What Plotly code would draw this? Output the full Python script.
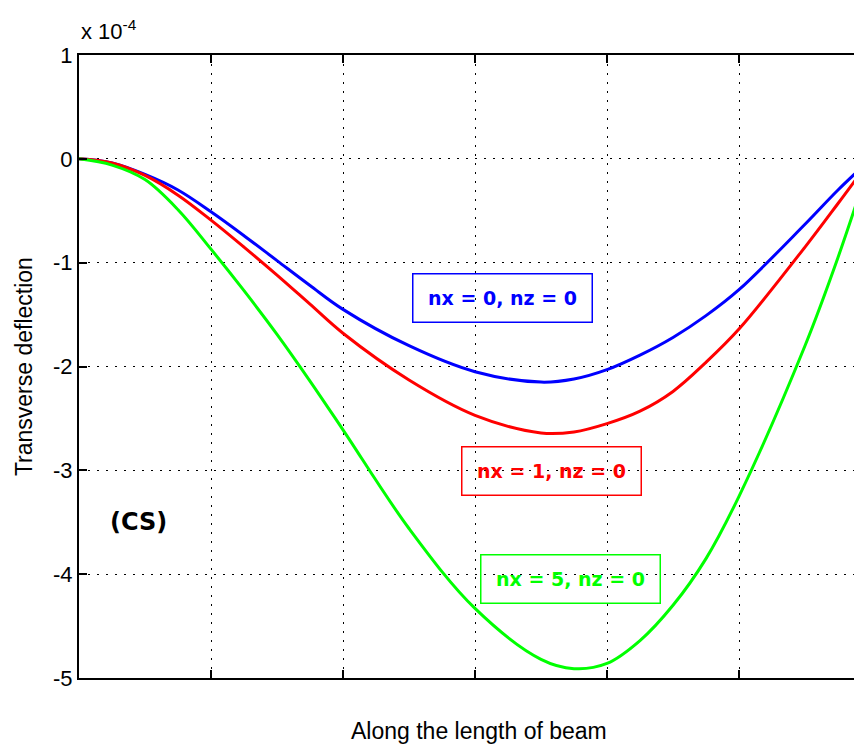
import plotly.graph_objects as go

# Position along the beam (grid units; the visible window spans 0 .. ~5.93)
x_pos = [0, 0.25, 0.5, 0.75, 1.0, 1.25, 1.5, 1.75, 2.0, 2.5, 3.0, 3.5, 3.75, 4.0, 4.25, 4.5, 4.75, 5.0, 5.5, 5.75, 6.0]

# Transverse deflection (x 1e-4)
defl_nx0 = [0, -0.04, -0.15, -0.30, -0.51, -0.74, -0.98, -1.22, -1.45, -1.80, -2.05, -2.15, -2.12,
            -2.03, -1.89, -1.72, -1.51, -1.26, -0.63, -0.30, 0.0]
defl_nx1 = [0, -0.04, -0.16, -0.35, -0.59, -0.85, -1.12, -1.40, -1.68, -2.13, -2.47, -2.64, -2.63,
            -2.55, -2.43, -2.24, -1.96, -1.64, -0.85, -0.43, 0.0]
defl_nx5 = [0, -0.06, -0.20, -0.49, -0.87, -1.27, -1.69, -2.14, -2.61, -3.56, -4.33, -4.82, -4.91,
            -4.86, -4.64, -4.30, -3.85, -3.25, -1.80, -0.95, 0.0]

y_ticks = [1, 0, -1, -2, -3, -4, -5]
y_tick_text = ["1", "0", "-1", "-2", "-3", "-4", "-5"]

labels = ["nx = 0, nz = 0", "nx = 1, nz = 0", "nx = 5, nz = 0"]
colors = ["#0000FF", "#FF0000", "#00FF00"]
series = [defl_nx0, defl_nx1, defl_nx5]

fig = go.Figure()
for lab, col, ys in zip(labels, colors, series):
    fig.add_trace(go.Scatter(x=x_pos, y=ys, mode="lines", name=lab,
                             line=dict(color=col, width=3, shape="spline", smoothing=1)))

# boxed labels
label_pos = [(3.205, -1.345), (3.576, -3.002), (3.727, -4.047)]
for lab, col, (lx, ly) in zip(labels, colors, label_pos):
    fig.add_annotation(x=lx, y=ly, xref="x", yref="y", text="<b>" + lab + "</b>", showarrow=False,
                       font=dict(family="DejaVu Sans", size=19, color=col),
                       bordercolor=col, borderwidth=1.5, borderpad=1,
                       width=176, height=45, align="center", valign="middle")

fig.add_annotation(x=0.451, y=-3.498, xref="x", yref="y", text="<b>(CS)</b>", showarrow=False,
                   font=dict(family="DejaVu Sans", size=24, color="black"))

axis_font = dict(family="Liberation Sans", size=22, color="black")
title_font = dict(family="Liberation Sans", size=23, color="black")

fig.add_annotation(x=400 / 791, y=-0.085, xref="paper", yref="paper", text="Along the length of beam",
                   showarrow=False, font=title_font, xanchor="center", yanchor="middle")
fig.add_annotation(x=-55 / 791, y=0.499, xref="paper", yref="paper", text="Transverse deflection",
                   showarrow=False, font=title_font, textangle=-90, xanchor="center", yanchor="middle")
fig.add_annotation(x=0.0, y=1.014, xref="paper", yref="paper", text="x 10<sup>-4</sup>",
                   showarrow=False, font=dict(family="Liberation Sans", size=22, color="black"),
                   xanchor="left", yanchor="bottom")

fig.update_layout(
    width=862, height=736,
    margin=dict(l=71, r=0, t=47, b=66),
    paper_bgcolor="white", plot_bgcolor="white",
    showlegend=False,
    xaxis=dict(range=[0, 791 / 132], tickvals=[1, 2, 3, 4, 5], showticklabels=False,
               ticks="inside", ticklen=8, tickwidth=1.5, tickcolor="black",
               showline=True, linecolor="black", linewidth=2, mirror="ticks",
               showgrid=True, gridcolor="black", gridwidth=1, griddash="2px,7px",
               zeroline=False),
    yaxis=dict(range=[-5, 1], tickvals=y_ticks, ticktext=y_tick_text,
               ticks="inside", ticklen=8, tickwidth=1.5, tickcolor="black",
               tickfont=axis_font,
               showline=True, linecolor="black", linewidth=2, mirror=False,
               showgrid=True, gridcolor="black", gridwidth=1, griddash="2px,7px",
               zeroline=False),
)

fig.write_html("out.html")
